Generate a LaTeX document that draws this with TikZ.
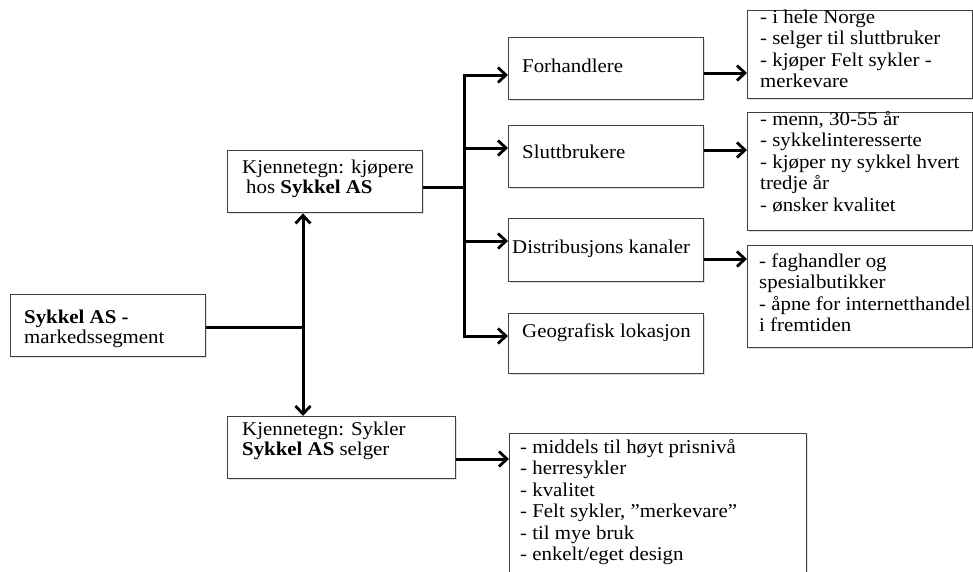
\documentclass[tikz,border=0pt]{standalone}
\usepackage{fontspec}
\setmainfont{Liberation Serif}[FakeStretch=1.07]
\usetikzlibrary{arrows.meta,shadows}
\newcommand{\lns}[1]{\begin{tabular}[t]{@{}l@{}}#1\end{tabular}}
\begin{document}
\begin{tikzpicture}[x=1pt,y=-1pt,
  box/.style={draw=black!75, line width=1.4pt, fill=white, anchor=north west, inner sep=0pt,
    drop shadow={shadow xshift=1.5pt, shadow yshift=-1.5pt, opacity=0.25}},
  txt/.style={anchor=base west, inner sep=0pt, font=\fontsize{19.5}{21.5}\selectfont},
  txtb/.style={txt, font=\fontsize{19.5}{20.5}\selectfont},
  conn/.style={line width=3pt, black},
  arr/.style={conn, -{Straight Barb[length=8pt,width=15pt,line width=2.8pt]}}]
\useasboundingbox (0,0) rectangle (973,571);
% boxes
\node[box, minimum width=195pt, minimum height=62pt] (A) at (10,294) {};
\node[box, minimum width=195pt, minimum height=62pt] (B) at (227,150) {};
\node[box, minimum width=228pt, minimum height=62pt] (C) at (227,416) {};
\node[box, minimum width=195pt, minimum height=62pt] (M1) at (508,37) {};
\node[box, minimum width=195pt, minimum height=62pt] (M2) at (508,125) {};
\node[box, minimum width=195pt, minimum height=63pt] (M3) at (508,218) {};
\node[box, minimum width=195pt, minimum height=60pt] (M4) at (508,313) {};
\node[box, minimum width=225pt, minimum height=88pt] (R1) at (747,10) {};
\node[box, minimum width=225pt, minimum height=118pt] (R2) at (747,112) {};
\node[box, minimum width=225pt, minimum height=102pt] (R3) at (747,245) {};
\node[box, minimum width=297pt, minimum height=170pt] (D) at (509,433) {};
% texts
\node[txtb] (tA) at (24,323) {\lns{\textbf{Sykkel AS -}\\markedssegment}};
\node[txtb] (tB) at (242,173) {\lns{Kjennetegn: kjøpere\\\hspace{4pt}hos \textbf{Sykkel AS}}};
\node[txtb] (tC) at (242,435) {\lns{Kjennetegn: Sykler\\\textbf{Sykkel AS} selger}};
\node[txt] (tM1) at (522,72) {Forhandlere};
\node[txt] (tM2) at (522,158) {Sluttbrukere};
\node[txt] (tM3) at (512,253) {Distribusjons kanaler};
\node[txt] (tM4) at (522,337) {Geografisk lokasjon};
\node[txt] (tR1) at (760,23) {\lns{- i hele Norge\\- selger til sluttbruker\\- kjøper Felt sykler -\\merkevare}};
\node[txt] (tR2) at (760,125) {\lns{- menn, 30-55 år\\- sykkelinteresserte\\- kjøper ny sykkel hvert\\tredje år\\- ønsker kvalitet}};
\node[txt] (tR3) at (759,267) {\lns{- faghandler og\\spesialbutikker\\- åpne for internetthandel\\i fremtiden}};
\node[txt] (tD) at (520,453) {\lns{- middels til høyt prisnivå\\- herresykler\\- kvalitet\\- Felt sykler, ”merkevare”\\- til mye bruk\\- enkelt/eget design}};
% connectors
\coordinate (t1) at (303,327);
\draw[conn] (A.east |- t1) -- (t1);
\draw[arr] (t1) -- (t1 |- B.south);
\draw[arr] (t1) -- (t1 |- C.north);
\coordinate (t2) at (464,187);
\coordinate (b1) at (464,75);
\coordinate (b2) at (464,148);
\coordinate (b3) at (464,241);
\coordinate (b4) at (464,336);
\draw[conn] (B.east |- t2) -- (t2);
\draw[arr] (t2) |- (b1 -| M1.west);
\draw[arr] (t2) |- (b2 -| M2.west);
\draw[arr] (t2) |- (b3 -| M3.west);
\draw[arr] (t2) |- (b4 -| M4.west);
\coordinate (r1) at (725,73);
\coordinate (r2) at (725,150);
\coordinate (r3) at (725,259);
\coordinate (r4) at (480,459);
\draw[arr] (M1.east |- r1) -- (R1.west |- r1);
\draw[arr] (M2.east |- r2) -- (R2.west |- r2);
\draw[arr] (M3.east |- r3) -- (R3.west |- r3);
\draw[arr] (C.east |- r4) -- (D.west |- r4);
\end{tikzpicture}
\end{document}
